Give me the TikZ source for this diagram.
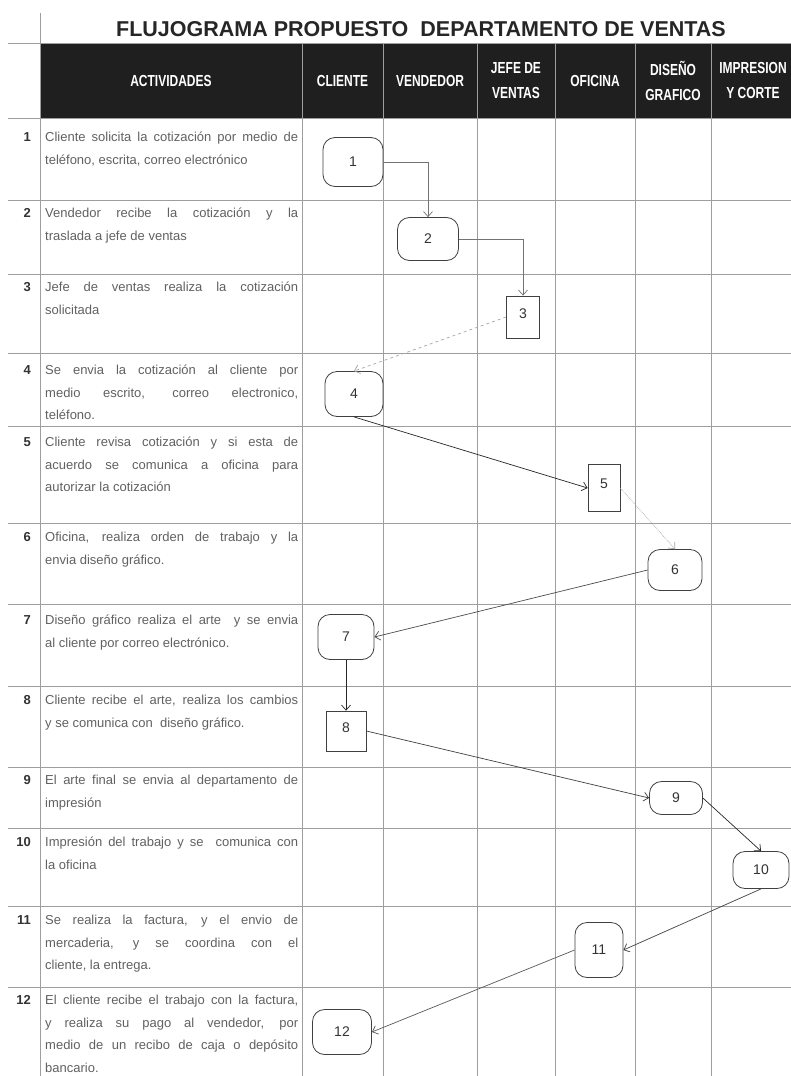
\documentclass[tikz,border=0pt]{standalone}
\usepackage{fontspec}
\setmainfont{Liberation Sans}
\newfontfamily\narrowfont[FakeStretch=0.75]{Liberation Sans}
\usetikzlibrary{arrows.meta}
\definecolor{gridc}{gray}{0.62}
\newcommand\jline[1]{\makebox[253pt][s]{#1}}
\tikzset{
  gridline/.style={draw=gridc, line width=0.7pt},
  hd/.style={text=white, font=\narrowfont\bfseries\fontsize{16}{25}\selectfont, align=center, inner sep=0pt},
  acttext/.style={anchor=base west, inner sep=0pt, text=black!62, font=\fontsize{13}{22.5}\selectfont},
  num/.style={anchor=base east, inner sep=0pt, text=black!80, font=\bfseries\fontsize{13}{13}\selectfont},
  term/.style={draw=black!75, line width=0.8pt, rounded corners=12pt, inner sep=0pt, text=black!80, font=\fontsize{14}{14}\selectfont},
  proc/.style={draw=black!75, line width=0.8pt, inner sep=0pt, text=black!80, font=\fontsize{14}{14}\selectfont},
  flow/.style={-{Straight Barb[length=5pt,width=9pt]}, line width=0.7pt},
}
\begin{document}
\begin{tikzpicture}[x=1pt,y=-1pt]
\useasboundingbox (0,0) rectangle (791,1076);
\fill[white] (0,0) rectangle (791,1076);
% header
\fill[black!88] (40,43) rectangle (791,118);
% grid
\foreach \yy in {43,118,200,274,353,426,523,604,686,767,828,906,987}
  \draw[gridline] (8,\yy) -- (791,\yy);
\draw[gridline] (40,13) -- (40,1076);
\foreach \xx in {302,383,477,555,635,711}
  \draw[gridline] (\xx,43) -- (\xx,1076);
% title
\node[text=black!85, inner sep=0pt] (title) at (421,29.5) {\bfseries\fontsize{21.5}{21.5}\selectfont FLUJOGRAMA PROPUESTO\ \ DEPARTAMENTO DE VENTAS};
% header texts
\node[hd] (h1) at (171,81) {ACTIVIDADES};
\node[hd] (h2) at (342.5,81) {CLIENTE};
\node[hd] (h3) at (430,81) {VENDEDOR};
\node[hd] (h4) at (516,80.5) {JEFE DE\\VENTAS};
\node[hd] (h5) at (595,81) {OFICINA};
\node[hd] (h6) at (673,80.5) {DISEÑO\\GRAFICO};
\node[hd] (h7) at (753,80.5) {IMPRESION\\Y CORTE};
% row numbers
\node[num] (r1) at (31,141.5) {1};
\node[num] (r2) at (31,217.5) {2};
\node[num] (r3) at (31,291.5) {3};
\node[num] (r4) at (31,374.5) {4};
\node[num] (r5) at (31,446.5) {5};
\node[num] (r6) at (31,541.5) {6};
\node[num] (r7) at (31,624.5) {7};
\node[num] (r8) at (31,704.5) {8};
\node[num] (r9) at (31,784.5) {9};
\node[num] (r10) at (31,846.5) {10};
\node[num] (r11) at (31,924.5) {11};
\node[num] (r12) at (31,1004.5) {12};
% activities
\node[acttext] (t1) at (45,141.5) {\parbox[t]{253pt}{\jline{Cliente solicita la cotización por medio de}\\teléfono, escrita, correo electrónico}};
\node[acttext] (t2) at (45,217.5) {\parbox[t]{253pt}{\jline{Vendedor recibe la cotización y la}\\traslada a jefe de ventas}};
\node[acttext] (t3) at (45,291.5) {\parbox[t]{253pt}{\jline{Jefe de ventas realiza la cotización}\\solicitada}};
\node[acttext] (t4) at (45,374.5) {\parbox[t]{253pt}{\jline{Se envia la cotización al cliente por}\\\jline{medio escrito, correo electronico,}\\teléfono.}};
\node[acttext] (t5) at (45,446.5) {\parbox[t]{253pt}{\jline{Cliente revisa cotización y si esta de}\\\jline{acuerdo se comunica a oficina para}\\autorizar la cotización}};
\node[acttext] (t6) at (45,541.5) {\parbox[t]{253pt}{\jline{Oficina, realiza orden de trabajo y la}\\envia diseño gráfico.}};
\node[acttext] (t7) at (45,624.5) {\parbox[t]{253pt}{\jline{Diseño gráfico realiza el arte \ y se envia}\\al cliente por correo electrónico.}};
\node[acttext] (t8) at (45,704.5) {\parbox[t]{253pt}{\jline{Cliente recibe el arte, realiza los cambios}\\y se comunica con \ diseño gráfico.}};
\node[acttext] (t9) at (45,784.5) {\parbox[t]{253pt}{\jline{El arte final se envia al departamento de}\\impresión}};
\node[acttext] (t10) at (45,846.5) {\parbox[t]{253pt}{\jline{Impresión del trabajo y se \ comunica con}\\la oficina}};
\node[acttext] (t11) at (45,924.5) {\parbox[t]{253pt}{\jline{Se realiza la factura, y el envio de}\\\jline{mercaderia, y se coordina con el}\\cliente, la entrega.}};
\node[acttext] (t12) at (45,1004.5) {\parbox[t]{253pt}{\jline{El cliente recibe el trabajo con la factura,}\\\jline{y realiza su pago al vendedor, por}\\\jline{medio de un recibo de caja o depósito}\\bancario.}};
% flow nodes
\node[term, minimum width=60pt, minimum height=49pt] (n1) at (353,162) {1};
\node[term, minimum width=61pt, minimum height=43pt] (n2) at (428,239) {2};
\node[proc, minimum width=33pt, minimum height=42pt] (n3) at (523,317) {\raisebox{7pt}{3}};
\node[term, minimum width=58pt, minimum height=45pt] (n4) at (354,394) {4};
\node[proc, minimum width=32pt, minimum height=47pt] (n5) at (604,488) {\raisebox{9pt}{5}};
\node[term, minimum width=54pt, minimum height=41pt] (n6) at (675,570) {6};
\node[term, minimum width=56pt, minimum height=45pt] (n7) at (346,637) {7};
\node[proc, minimum width=40pt, minimum height=40pt] (n8) at (346,731) {\raisebox{6pt}{8}};
\node[term, minimum width=53pt, minimum height=33pt] (n9) at (676,798) {9};
\node[term, minimum width=56pt, minimum height=37pt] (n10) at (761,870) {10};
\node[term, minimum width=48pt, minimum height=55pt] (n11) at (599,950) {11};
\node[term, minimum width=59pt, minimum height=45pt] (n12) at (342,1032) {12};
% connectors
\draw[flow, draw=black!55] (n1.east) -| (n2.north);
\draw[flow, draw=black!55] (n2.east) -| (n3.north);
\draw[flow, draw=black!35, dashed] (n3.west) -- (n4.north);
\draw[flow, draw=black!85] (n4.south) -- (n5.west);
\draw[flow, draw=black!35, densely dotted] (n5.east) -- (n6.north);
\draw[flow, draw=black!70] (n6.west) -- (n7.east);
\draw[flow, draw=black!85] (n7.south) -- (n8.north);
\draw[flow, draw=black!75] (n8.east) -- (n9.west);
\draw[flow, draw=black!85] (n9.east) -- (n10.north);
\draw[flow, draw=black!75] (n10.south) -- (n11.east);
\draw[flow, draw=black!65] (n11.west) -- (n12.east);
\end{tikzpicture}
\end{document}
